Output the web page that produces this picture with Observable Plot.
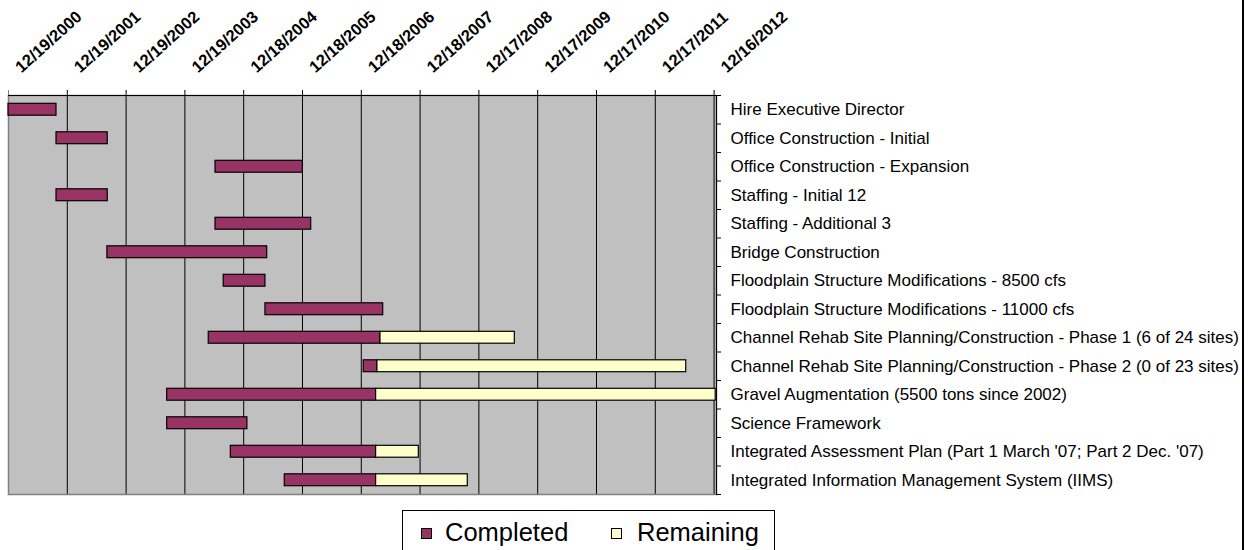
<!DOCTYPE html>
<html>
<head>
<meta charset="utf-8">
<script src="https://cdn.jsdelivr.net/npm/d3@7"></script>
<script src="https://cdn.jsdelivr.net/npm/@observablehq/plot@0.6"></script>
<style>
  html, body { margin: 0; padding: 0; background: white; width: 1252px; height: 550px; overflow: hidden; }
  #wrap { position: relative; width: 1252px; height: 550px; }
  #chart { position: absolute; left: 0; top: 0; }
  #border { position: absolute; left: 1242px; top: 0; width: 2px; height: 550px; background: black; }
  #legend { position: absolute; left: 402px; top: 510px; width: 373px; height: 50px; border: 1px solid black; box-sizing: border-box;
            font-family: "Liberation Sans", Arial, sans-serif; font-size: 25.5px; line-height: 26px; color: black; background: white; }
  #legend .sw { position: absolute; width: 9px; height: 9px; border: 1px solid black; top: 17px; }
  #legend .lb { position: absolute; top: 8px; white-space: nowrap; }
</style>
</head>
<body>
<div id="wrap">
  <div id="chart"></div>
  <div id="border"></div>
  <div id="legend"></div>
</div>
<script>
// ---- data ----
const tasks = [
  "Hire Executive Director",
  "Office Construction - Initial",
  "Office Construction - Expansion",
  "Staffing - Initial 12",
  "Staffing - Additional 3",
  "Bridge Construction",
  "Floodplain Structure Modifications - 8500 cfs",
  "Floodplain Structure Modifications - 11000 cfs",
  "Channel Rehab Site Planning/Construction - Phase 1 (6 of 24 sites)",
  "Channel Rehab Site Planning/Construction - Phase 2 (0 of 23 sites)",
  "Gravel Augmentation (5500 tons since 2002)",
  "Science Framework",
  "Integrated Assessment Plan (Part 1 March '07; Part 2 Dec. '07)",
  "Integrated Information Management System (IIMS)"
];
const completedStart = ["2000-12-19","2001-10-13","2004-06-26","2001-10-13","2004-06-26","2002-08-25","2004-08-16","2005-05-02","2004-05-15","2007-01-02","2003-08-31","2003-08-31","2004-09-29","2005-08-30"];
const completedEnd   = ["2001-10-13","2002-08-27","2005-12-20","2002-08-27","2006-02-10","2005-05-13","2005-05-02","2007-05-03","2007-04-16","2007-03-28","2007-03-20","2005-01-10","2007-03-20","2007-03-20"];
const remainingEnd   = [null,null,null,null,null,null,null,null,"2009-07-28","2012-06-26","2012-12-26",null,"2007-12-10","2008-10-09"];
const tickDates  = ["2000-12-19","2001-12-19","2002-12-19","2003-12-19","2004-12-18","2005-12-18","2006-12-18","2007-12-18","2008-12-17","2009-12-17","2010-12-17","2011-12-17","2012-12-16"];
const tickLabels = ["12/19/2000","12/19/2001","12/19/2002","12/19/2003","12/18/2004","12/18/2005","12/18/2006","12/18/2007","12/17/2008","12/17/2009","12/17/2010","12/17/2011","12/16/2012"];
const xDomain = ["2000-12-19","2012-12-31"];
const seriesNames = ["Completed","Remaining"];
const seriesColors = ["#993366","#FFFFCC"];

// ---- build ----
const parse = s => new Date(s + "T00:00:00Z");
const completed = tasks.map((t, i) => ({task: t, x1: parse(completedStart[i]), x2: parse(completedEnd[i])}));
const remaining = tasks.map((t, i) => remainingEnd[i] ? {task: t, x1: parse(completedEnd[i]), x2: parse(remainingEnd[i])} : null).filter(d => d);
const ticks = tickDates.map((d, i) => ({date: parse(d), label: tickLabels[i], first: i === 0}));
const xMax = parse(xDomain[1]);

const W = 1252, H = 500, mt = 95, mb = 6, ml = 8, mr = 536;
const rowH = (H - mt - mb) / tasks.length;

const chart = Plot.plot({
  width: W, height: H,
  marginTop: mt, marginBottom: mb, marginLeft: ml, marginRight: mr,
  style: {fontFamily: "'Liberation Sans', Arial, sans-serif", background: "white", overflow: "visible"},
  x: {type: "utc", domain: xDomain.map(parse), axis: null},
  y: {type: "band", domain: tasks, padding: 0, round: false, label: null},
  marks: [
    Plot.frame({fill: "#C0C0C0", stroke: null}),
    Plot.ruleX(ticks, {x: "date", stroke: d => d.first ? "#808080" : "black", strokeWidth: 1, insetTop: -5}),
    Plot.frame({stroke: "#808080", strokeWidth: 1.5}),
    Plot.ruleY([tasks[0]], {y: d => d, dy: -rowH / 2, stroke: "black", strokeWidth: 1.2}),
    Plot.ruleX([xMax], {stroke: "black", strokeWidth: 1}),
    Plot.ruleY(tasks, {y: d => d, x1: xMax, x2: xMax, insetRight: -5, dy: -rowH / 2, stroke: "black"}),
    Plot.ruleY([tasks[tasks.length - 1]], {y: d => d, x1: xMax, x2: xMax, insetRight: -5, dy: rowH / 2, stroke: "black"}),
    Plot.barX(completed, {y: "task", x1: "x1", x2: "x2", fill: seriesColors[0], stroke: "black", strokeWidth: 1.2, insetTop: 8.3, insetBottom: 8.3}),
    Plot.barX(remaining, {y: "task", x1: "x1", x2: "x2", fill: seriesColors[1], stroke: "black", strokeWidth: 1.2, insetTop: 8.3, insetBottom: 8.3}),
    Plot.text(ticks, {x: "date", text: "label", frameAnchor: "top", textAnchor: "start", lineAnchor: "bottom",
      rotate: -42, dx: 13, dy: -22, fontSize: 16.5, fontWeight: "bold", fill: "black"}),
    Plot.axisY({anchor: "right", tickSize: 0, tickPadding: 14, fontSize: 17, fill: "black", label: null})
  ]
});
document.getElementById("chart").appendChild(chart);

// ---- legend ----
const legend = document.getElementById("legend");
const swLeft = [18, 208], lbLeft = [42, 234];
seriesNames.forEach((name, i) => {
  const sw = document.createElement("div");
  sw.className = "sw";
  sw.style.left = swLeft[i] + "px";
  sw.style.background = seriesColors[i];
  legend.appendChild(sw);
  const lb = document.createElement("div");
  lb.className = "lb";
  lb.style.left = lbLeft[i] + "px";
  lb.textContent = name;
  legend.appendChild(lb);
});
</script>
</body>
</html>
